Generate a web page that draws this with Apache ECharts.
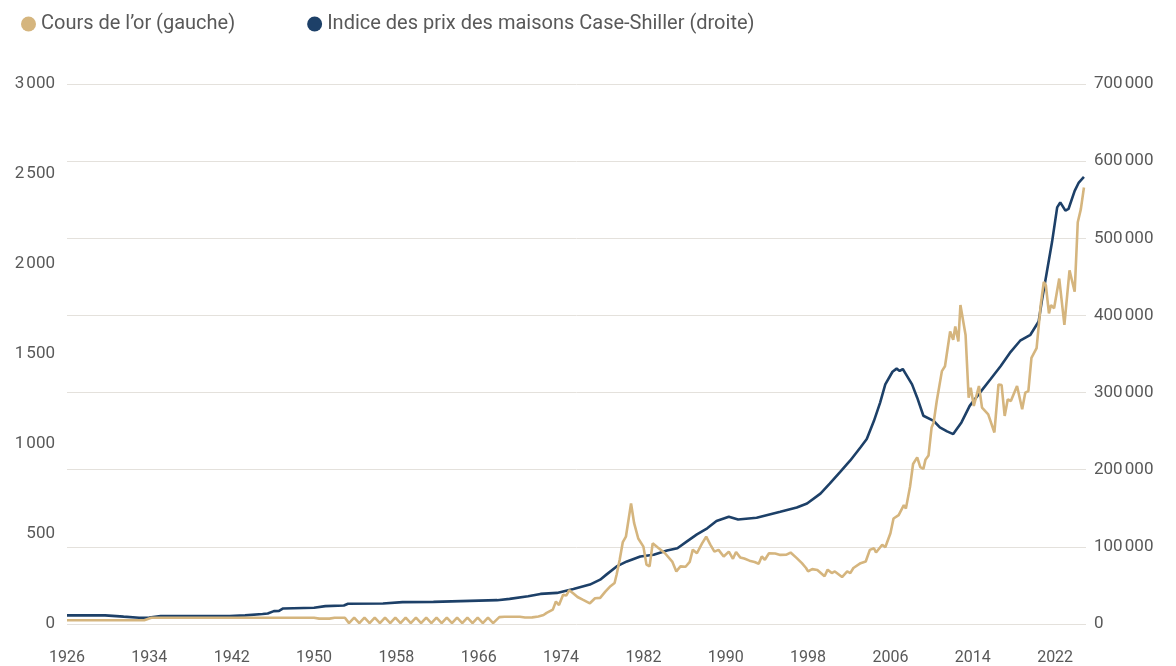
<!DOCTYPE html>
<html lang="fr">
<head>
<meta charset="utf-8">
<title>Or vs Case-Shiller</title>
<script src="https://cdn.jsdelivr.net/npm/echarts@6/dist/echarts.min.js"></script>
<style>
  html, body { margin: 0; padding: 0; background: #fff; }
  #chart { width: 1176px; height: 666px; }
</style>
</head>
<body>
<div id="chart"></div>
<script>
// années de départ de l'axe x
const START_YEAR = 1926
const xTickYears = [1926, 1934, 1942, 1950, 1958, 1966, 1974, 1982, 1990, 1998, 2006, 2014, 2022]

// cours de l'or (gauche)
const goldYears = [
  1926, 1933.5, 1934.2, 1950.0, 1950.5, 1951.5, 1952.0, 1953.0,
  1953.4, 1953.9, 1954.4, 1954.9, 1955.4, 1955.9, 1956.4, 1956.9, 1957.4, 1957.9,
  1958.4, 1958.9, 1959.4, 1959.9, 1960.4, 1960.9, 1961.4, 1961.9, 1962.4, 1962.9,
  1963.4, 1963.9, 1964.4, 1964.9, 1965.4, 1965.9, 1966.4, 1966.9, 1967.4,
  1968.0, 1968.5, 1970.0, 1970.5, 1971.2, 1971.8, 1972.3, 1972.6, 1973.2, 1973.5,
  1973.8, 1974.2, 1974.5, 1974.8, 1975.2, 1975.6, 1976.1, 1976.8, 1977.3, 1977.8,
  1978.3, 1978.8, 1979.2, 1979.4, 1979.7, 1980.0, 1980.3, 1980.8, 1981.1, 1981.5,
  1982.0, 1982.3, 1982.6, 1982.9, 1983.4, 1984.1, 1984.8, 1985.2, 1985.6, 1986.1,
  1986.5, 1986.8, 1987.2, 1987.7, 1988.1, 1988.5, 1988.9, 1989.3, 1989.8, 1990.3,
  1990.7, 1991.0, 1991.4, 1991.8, 1992.3, 1992.8, 1993.2, 1993.5, 1993.8, 1994.2,
  1994.8, 1995.3, 1995.9, 1996.3, 1996.9, 1997.4, 1997.8, 1998.0, 1998.4, 1998.9,
  1999.6, 1999.9, 2000.3, 2000.6, 2001.3, 2001.8, 2002.1, 2002.4, 2003.1, 2003.6,
  2004.0, 2004.4, 2004.6, 2005.2, 2005.5, 2006.0, 2006.3, 2006.8, 2007.3, 2007.5,
  2007.9, 2008.2, 2008.6, 2008.9, 2009.2, 2009.4, 2009.7, 2010.0, 2010.2, 2010.5,
  2011.0, 2011.3, 2011.8, 2012.1, 2012.3, 2012.6, 2012.8, 2013.3, 2013.6, 2013.8,
  2014.1, 2014.6, 2014.9, 2015.5, 2016.1, 2016.5, 2016.8, 2017.1, 2017.4, 2017.7,
  2018.3, 2018.8, 2019.1, 2019.4, 2019.7, 2020.2, 2020.6, 2020.9, 2021.1, 2021.4,
  2021.6, 2021.9, 2022.4, 2022.9, 2023.4, 2023.9, 2024.2, 2024.5, 2024.8
]
const goldValues = [
  20.67, 20.67, 35, 35, 30, 30, 35, 35,
  5, 35, 5, 35, 5, 35, 5, 35, 5, 35,
  5, 35, 5, 35, 5, 35, 5, 35, 5, 35,
  5, 35, 5, 35, 5, 35, 5, 35, 5,
  38, 40, 40, 36, 37, 42, 50, 62, 80, 125,
  105, 162, 158, 188, 170, 150, 135, 115, 143, 145,
  180, 210, 228, 275, 358, 455, 485, 670, 560, 475,
  430, 330, 320, 448, 425, 393, 347, 292, 320, 318,
  345, 413, 393, 448, 485, 441, 402, 412, 375, 402,
  362, 400, 370, 364, 352, 344, 335, 375, 357, 393,
  392, 384, 385, 397, 366, 338, 311, 292, 305, 300,
  265, 302, 283, 292, 261, 292, 283, 311, 338, 347,
  412, 421, 397, 440, 426, 504, 586, 605, 660, 641,
  761, 889, 926, 871, 862, 912, 936, 1092, 1120, 1239,
  1405, 1432, 1625, 1579, 1653, 1570, 1772, 1606, 1257, 1312,
  1211, 1322, 1202, 1165, 1064, 1331, 1327, 1156, 1248, 1239,
  1322, 1193, 1285, 1294, 1478, 1533, 1772, 1901, 1882, 1726,
  1772, 1754, 1919, 1662, 1965, 1846, 2232, 2305, 2425
]

// indice Case-Shiller (droite)
const homeYears = [
  1926, 1929.7, 1931.5, 1933.0, 1934.0, 1935.1, 1941.8, 1943.3, 1945.0, 1945.5,
  1946.1, 1946.6, 1947.0, 1950.0, 1951.1, 1952.9, 1953.3, 1956.7, 1958.6, 1961.6,
  1967.8, 1969.0, 1970.8, 1972.0, 1973.6, 1975.2, 1976.8, 1977.8, 1978.4, 1979.4,
  1980.4, 1981.7, 1983.0, 1984.3, 1985.3, 1986.2, 1987.2, 1988.2, 1989.1, 1990.3,
  1991.2, 1993.0, 1995.3, 1996.9, 1997.9, 1999.2, 2000.1, 2001.1, 2002.1, 2003.1,
  2003.7, 2004.4, 2005.0, 2005.5, 2006.2, 2006.6, 2006.9, 2007.2, 2007.5, 2008.1,
  2008.6, 2009.2, 2010.2, 2010.8, 2011.5, 2012.1, 2012.9, 2013.7, 2014.7, 2015.7,
  2016.7, 2017.6, 2018.6, 2019.6, 2020.4, 2020.7, 2021.2, 2021.7, 2022.2, 2022.5,
  2023.0, 2023.3, 2023.9, 2024.3, 2024.8
]
const homeValues = [
  11150, 11150, 9500, 8150, 8300, 10300, 10300, 11150, 13000, 13700,
  16700, 17000, 20160, 21020, 23170, 24020, 26170, 26600, 28310, 28700,
  30890, 32600, 36040, 39000, 40300, 45400, 51100, 57500, 64000, 74600,
  81100, 87500, 89700, 95200, 98200, 106800, 116200, 124000, 133400, 139000,
  135500, 137700, 145400, 151000, 156100, 169000, 181900, 196900, 212000, 229100,
  239800, 263400, 287000, 310600, 327000, 331000, 328000, 330500, 324000, 310600,
  293400, 269900, 263400, 254800, 249700, 246200, 261300, 282800, 299900, 317000,
  334200, 351400, 367200, 374900, 392100, 417900, 456500, 495100, 540100, 546600,
  535800, 538000, 561500, 572300, 579600
]

const GOLD = '#d5b57e'
const NAVY = '#1d4068'
const TEXT = '#595959'

// 3000 -> "3 000"
const fmt = (v) => String(v).replace(/\B(?=(\d{3})+(?!\d))/g, '\u202f')

const toPairs = (years, values) => years.map((y, i) => [y - START_YEAR, values[i]])

const chart = echarts.init(document.getElementById('chart'))

chart.setOption({
  animation: false,
  textStyle: { fontFamily: 'Roboto, sans-serif' },
  legend: {
    left: 21,
    top: 14,
    padding: 0,
    icon: 'circle',
    itemWidth: 15,
    itemHeight: 15,
    itemGap: 72,
    textStyle: { fontSize: 20, color: TEXT },
    data: ['Cours de l’or (gauche)', 'Indice des prix des maisons Case-Shiller (droite)']
  },
  grid: {
    left: 67,
    right: 90,
    top: 84,
    bottom: 38
  },
  xAxis: {
    type: 'value',
    min: 0,
    max: 99,
    interval: 8,
    axisLine: { show: false },
    axisTick: { show: false },
    splitLine: { show: false },
    axisLabel: {
      color: TEXT,
      fontSize: 16,
      margin: 26,
      showMaxLabel: false,
      formatter: (v) => {
        const y = v + START_YEAR
        return xTickYears.includes(y) ? String(y) : ''
      }
    }
  },
  yAxis: [
    {
      type: 'value',
      position: 'left',
      min: 0,
      max: 3000,
      interval: 500,
      axisLine: { show: false },
      axisTick: { show: false },
      splitLine: { show: false },
      axisLabel: {
        color: TEXT,
        fontSize: 17,
        margin: 12,
        padding: [0, 0, 8, 0],
        formatter: fmt
      }
    },
    {
      type: 'value',
      position: 'right',
      min: 0,
      max: 700000,
      interval: 100000,
      axisLine: { show: false },
      axisTick: { show: false },
      splitLine: { lineStyle: { color: '#e4e1dc', width: 1 } },
      axisLabel: {
        color: TEXT,
        fontSize: 17,
        margin: 8,
        padding: [0, 0, 8, 0],
        formatter: fmt
      }
    }
  ],
  series: [
    {
      name: 'Indice des prix des maisons Case-Shiller (droite)',
      type: 'line',
      yAxisIndex: 1,
      showSymbol: false,
      data: toPairs(homeYears, homeValues),
      color: NAVY,
      lineStyle: { width: 2.6, color: NAVY }
    },
    {
      name: 'Cours de l’or (gauche)',
      type: 'line',
      yAxisIndex: 0,
      showSymbol: false,
      data: toPairs(goldYears, goldValues),
      color: GOLD,
      lineStyle: { width: 2.6, color: GOLD }
    }
  ]
})
</script>
</body>
</html>
